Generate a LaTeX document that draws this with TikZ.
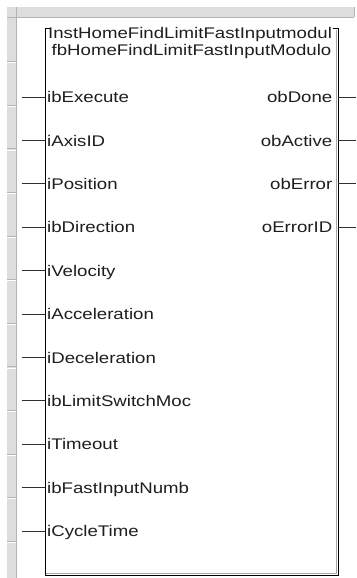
\documentclass[tikz,border=0pt]{standalone}
\usepackage{fontspec}
\setmainfont[FakeStretch=1.21]{Liberation Sans}
\definecolor{gutterfill}{HTML}{DEDEDE}
\definecolor{gutterline}{HTML}{B4B4B4}
\definecolor{txt}{HTML}{1E1E1E}
\definecolor{stub}{HTML}{303030}
\begin{document}
\begin{tikzpicture}[x=1pt,y=-1pt,
  lbl/.style={font=\fontsize{15.4}{18}\selectfont, inner sep=0pt, text=txt},
  inlbl/.style={lbl, anchor=base west},
  outlbl/.style={lbl, anchor=base east},
  boxline/.style={draw=black, line width=1pt},
  stubline/.style={draw=stub, line width=1pt},
  gline/.style={draw=gutterline, line width=0.9pt}]
\useasboundingbox (0,0) rectangle (356,578);
\fill[white] (0,0) rectangle (356,578);
% gutter and header band
\fill[gutterfill] (7,7) rectangle (16,578);
\fill[gutterfill] (7,7) rectangle (354,17);
\draw[gline] (16,7) -- (16,578);
\draw[gline] (7,17) -- (354,17);
\draw[gline] (354,7) -- (354,17);
\foreach \k in {1,...,12} {
  \draw[gline] (7,{18+43.6*\k}) -- (16,{18+43.6*\k});
  \draw[white, line width=0.8pt] (7,{19.2+43.6*\k}) -- (15.5,{19.2+43.6*\k});
}
% box
\coordinate (tl) at (45,29);
\coordinate (tr) at (338,29);
\coordinate (bl) at (45,575);
\coordinate (br) at (338,575);
\coordinate (tlt) at (50,29);
\coordinate (trt) at (333,29);
\draw[boxline] (tlt) -- (tl) -- (bl) -- (br) -- (tr) -- (trt);
\draw[gray!70, line width=0.8pt] (46,573.8) -- (336.8,573.8) -- (336.8,30);
% titles
\begin{scope}
\clip (46,15) rectangle (335.5,45);
\node[lbl, anchor=base west] (inst) at (48,38) {InstHomeFindLimitFastInputmodul};
\end{scope}
\node[lbl, anchor=base] (fbtype) at (191.5,56) {fbHomeFindLimitFastInputModulo};
% inputs
\foreach \name/\txt [count=\i from 0] in {
  ibexec/ibExecute, iaxis/iAxisID, ipos/iPosition, idir/ibDirection,
  ivel/iVelocity, iacc/iAcceleration, idec/iDeceleration,
  ilim/ibLimitSwitchMoc, itim/iTimeout, ifast/ibFastInputNumb, icyc/iCycleTime} {
  \coordinate (\name-end) at (22,{97+43.4*\i});
  \coordinate (\name-pin) at (45,{97+43.4*\i});
  \node[inlbl] (\name) at (47,{102.7+43.4*\i}) {\txt};
  \draw[stubline] (\name-end) -- (\name-pin);
}
% outputs
\foreach \name/\txt [count=\i from 0] in {
  odone/obDone, oact/obActive, oerr/obError, oeid/oErrorID} {
  \coordinate (\name-pin) at (338,{97+43.4*\i});
  \coordinate (\name-end) at (356,{97+43.4*\i});
  \node[outlbl] (\name) at (332.5,{102.7+43.4*\i}) {\txt};
  \draw[stubline] (\name-pin) -- (\name-end);
}
\end{tikzpicture}
\end{document}
